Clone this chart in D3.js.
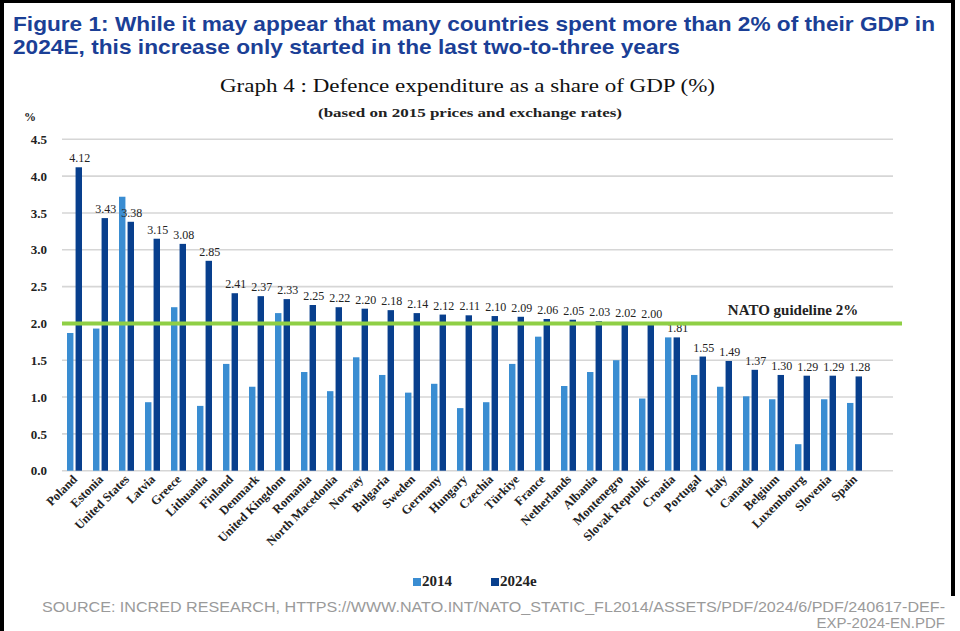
<!DOCTYPE html>
<html>
<head>
<meta charset="utf-8">
<script src="https://cdn.jsdelivr.net/npm/d3@7"></script>
<style>
  body { margin: 0; background: #fff; }
  svg { display: block; }
</style>
</head>
<body>
<div id="chart"></div>
<script>
// data
var countries = ["Poland","Estonia","United States","Latvia","Greece","Lithuania","Finland","Denmark",
    "United Kingdom","Romania","North Macedonia","Norway","Bulgaria","Sweden","Germany","Hungary",
    "Czechia","Türkiye","France","Netherlands","Albania","Montenegro","Slovak Republic","Croatia",
    "Portugal","Italy","Canada","Belgium","Luxembourg","Slovenia","Spain"];
var v2014 = [1.87,1.93,3.72,0.93,2.22,0.88,1.45,1.14,2.14,1.34,1.08,1.54,1.30,1.06,1.18,0.85,
    0.93,1.45,1.82,1.15,1.34,1.50,0.98,1.81,1.30,1.14,1.01,0.97,0.36,0.97,0.92];
var v2024 = [4.12,3.43,3.38,3.15,3.08,2.85,2.41,2.37,2.33,2.25,2.22,2.20,2.18,2.14,2.12,2.11,
    2.10,2.09,2.06,2.05,2.03,2.02,2.00,1.81,1.55,1.49,1.37,1.30,1.29,1.29,1.28];
var seriesNames = ["2014","2024e"];
var yTicks = [0,0.5,1,1.5,2,2.5,3,3.5,4,4.5];
var guideline = 2;

var W = 960, H = 631;
var serif = "'Liberation Serif', 'DejaVu Serif', serif";
var sans = "'Liberation Sans', Arial, sans-serif";
var colors = d3.scaleOrdinal().domain(seriesNames).range(["#3a8dd2","#083f8d"]);

var svg = d3.select("#chart").append("svg").attr("width", W).attr("height", H);

// frame
svg.append("rect").attr("x",0).attr("y",0).attr("width",4).attr("height",H).attr("fill","#000");
svg.append("rect").attr("x",0).attr("y",0).attr("width",955).attr("height",3).attr("fill","#000");
svg.append("rect").attr("x",951).attr("y",0).attr("width",4).attr("height",596).attr("fill","#000");

// headline
svg.append("text").text("Figure 1: While it may appear that many countries spent more than 2% of their GDP in")
    .attr("x",13).attr("y",31).attr("textLength",922).attr("lengthAdjust","spacingAndGlyphs")
    .attr("font-family",sans).attr("font-weight","bold").attr("font-size",21).attr("fill","#1b3f96");
svg.append("text").text("2024E, this increase only started in the last two-to-three years")
    .attr("x",13).attr("y",54).attr("textLength",667).attr("lengthAdjust","spacingAndGlyphs")
    .attr("font-family",sans).attr("font-weight","bold").attr("font-size",21).attr("fill","#1b3f96");

svg.append("text").text("Graph 4 : Defence expenditure as a share of GDP (%)")
    .attr("x",220).attr("y",92).attr("textLength",495).attr("lengthAdjust","spacingAndGlyphs")
    .attr("font-family",serif).attr("font-size",19).attr("fill","#111");
svg.append("text").text("(based on 2015 prices and exchange rates)")
    .attr("x",318).attr("y",117).attr("textLength",304).attr("lengthAdjust","spacingAndGlyphs")
    .attr("font-family",serif).attr("font-weight","bold").attr("font-size",13).attr("fill","#222");
svg.append("text").text("%").attr("x",24).attr("y",121)
    .attr("font-family",serif).attr("font-weight","bold").attr("font-size",12).attr("fill","#222");

// scales
var x = d3.scaleBand().domain(countries).range([62, 62 + 26 * countries.length]).padding(0);
var x1 = d3.scaleBand().domain(seriesNames).range([5, 20]).paddingInner(0.25);
var y = d3.scaleLinear().domain([0, 4.5]).range([470.7, 139.3]);

// grid
svg.selectAll(".grid").data(yTicks).enter().append("line")
    .attr("class","grid")
    .attr("x1",62).attr("x2",893)
    .attr("y1",function(d){ return y(d); }).attr("y2",function(d){ return y(d); })
    .attr("stroke","#d6d6d6").attr("stroke-width",1.6);

// y axis labels
var yAxis = d3.axisLeft(y).tickValues(yTicks).tickFormat(d3.format(".1f")).tickSize(0).tickPadding(0);
var yG = svg.append("g").attr("transform","translate(47,0)").call(yAxis);
yG.select(".domain").remove();
yG.selectAll("text").attr("font-family",serif).attr("font-weight","bold").attr("font-size",13).attr("fill","#222");

// bars
var groups = svg.selectAll(".grp").data(countries).enter().append("g")
    .attr("class","grp")
    .attr("transform",function(d){ return "translate(" + x(d) + ",0)"; });

groups.append("rect")
    .attr("x", x1("2014")).attr("width", x1.bandwidth())
    .attr("y", function(d,i){ return y(v2014[i]); })
    .attr("height", function(d,i){ return y(0) - y(v2014[i]); })
    .attr("fill", colors("2014"));

groups.append("rect")
    .attr("x", x1("2024e")).attr("width", x1.bandwidth())
    .attr("y", function(d,i){ return y(v2024[i]); })
    .attr("height", function(d,i){ return y(0) - y(v2024[i]); })
    .attr("fill", colors("2024e"));

groups.append("text")
    .text(function(d,i){ return v2024[i].toFixed(2); })
    .attr("x", x1("2024e") + x1.bandwidth()/2 + 1)
    .attr("y", function(d,i){ return y(v2024[i]) - 5; })
    .attr("text-anchor","middle")
    .attr("font-family",serif).attr("font-size",12).attr("fill","#222");

// NATO guideline
svg.append("line")
    .attr("x1",62).attr("x2",902)
    .attr("y1",y(guideline)).attr("y2",y(guideline))
    .attr("stroke","#8fcf45").attr("stroke-width",4);
svg.append("text").text("NATO guideline 2%")
    .attr("x",793).attr("y",y(guideline) - 8).attr("text-anchor","middle")
    .attr("font-family",serif).attr("font-weight","bold").attr("font-size",15).attr("fill","#222");

// x labels
svg.selectAll(".xl").data(countries).enter().append("text")
    .attr("class","xl")
    .text(function(d){ return d; })
    .attr("transform",function(d){ return "translate(" + (x(d) + x.bandwidth()/2 + 3) + ",480) rotate(-45)"; })
    .attr("text-anchor","end")
    .attr("font-family",serif).attr("font-weight","bold").attr("font-size",12.5).attr("fill","#222");

// legend
var legX = [413, 491];
var leg = svg.selectAll(".leg").data(seriesNames).enter().append("g")
    .attr("class","leg")
    .attr("transform",function(d,i){ return "translate(" + legX[i] + ",578)"; });
leg.append("rect").attr("width",8).attr("height",8).attr("fill",function(d){ return colors(d); });
leg.append("text").text(function(d){ return d; })
    .attr("x",9).attr("y",8)
    .attr("font-family",serif).attr("font-weight","bold").attr("font-size",15).attr("fill","#222");

// source
svg.append("text").text("SOURCE: INCRED RESEARCH, HTTPS://WWW.NATO.INT/NATO_STATIC_FL2014/ASSETS/PDF/2024/6/PDF/240617-DEF-")
    .attr("x",42).attr("y",612).attr("textLength",903).attr("lengthAdjust","spacingAndGlyphs")
    .attr("font-family",sans).attr("font-size",15).attr("fill","#9a9a9a");
svg.append("text").text("EXP-2024-EN.PDF")
    .attr("x",945).attr("y",628).attr("text-anchor","end")
    .attr("font-family",sans).attr("font-size",15).attr("fill","#9a9a9a");
</script>
</body>
</html>
